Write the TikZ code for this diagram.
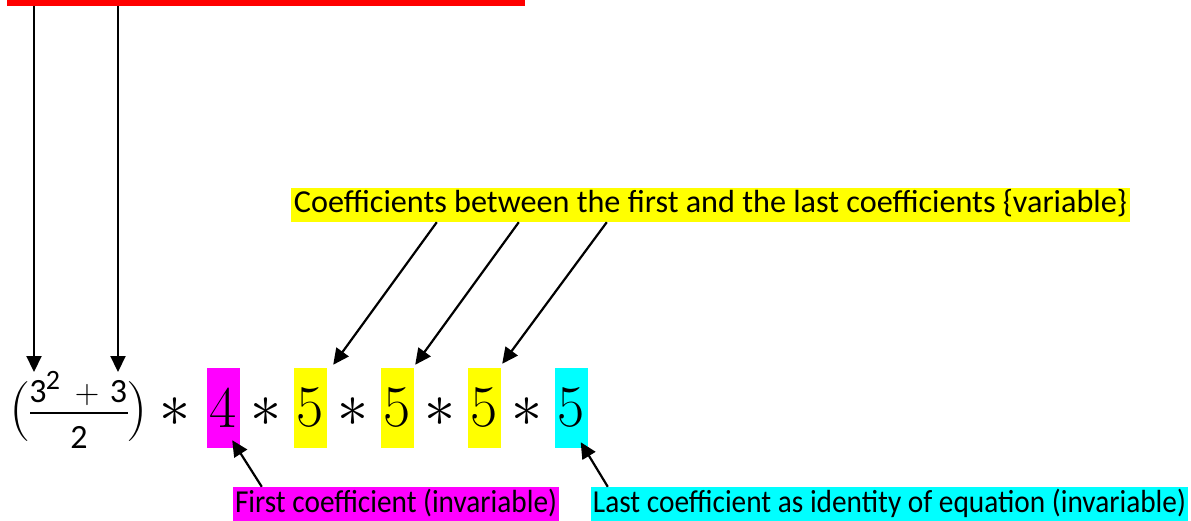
\documentclass[tikz,border=0pt]{standalone}
\usepackage{fontspec}
\usepackage{graphicx}
\setmainfont{Carlito}
\newfontfamily\lmr{Latin Modern Roman}
\usetikzlibrary{arrows.meta}
\definecolor{hlyellow}{RGB}{255,255,0}
\definecolor{hlmagenta}{RGB}{255,0,255}
\definecolor{hlcyan}{RGB}{0,255,255}
\definecolor{hlred}{RGB}{255,0,0}
% set a label to a given width, keeping its natural height
\newcommand{\fitto}[2]{\resizebox{#1}{\height}{#2}}
\newcommand{\timesmark}{\scalebox{6.2}{$\ast$}}

\begin{document}
\begin{tikzpicture}[x=1pt,y=-1pt,
  lab/.style={inner xsep=0pt, inner ysep=1pt, minimum height=34pt,
    text height=24pt, text depth=8pt, font=\fontsize{32}{34}\selectfont},
  coef/.style={inner sep=0pt, minimum width=33pt, minimum height=80pt,
    font=\lmr\fontsize{59}{60}\selectfont},
  big/.style={inner sep=0pt, anchor=base, font=\lmr\fontsize{60}{62}\selectfont},
  star/.style={inner sep=0pt, anchor=base, font=\fontsize{10}{12}\selectfont},
  small/.style={inner sep=0pt, anchor=base, font=\fontsize{34}{34}\selectfont},
  conn/.style={-{Triangle[length=16pt,width=15pt]}, line width=2.2pt, black}]

% canvas
\fill[white] (0,0) rectangle (1191,521);
\clip (0,0) rectangle (1191,521);
\useasboundingbox (0,0) rectangle (1191,521);

% bar at the top edge
\node[fill=hlred, inner sep=0pt, minimum width=518pt, minimum height=40pt,
  anchor=south west] (topbar) at (7,6) {};

% fraction (3^2+3)/2 in parentheses
\node[big] (lpar) at (20,426) {(};
\node[big] (rpar) at (137,426) {)};
\node[small] (n1) at (38,402) {3};
\node[inner sep=0pt, anchor=base, font=\fontsize{28}{28}\selectfont] (nsup) at (53,389) {2};
\node[small] (nplus) at (87,403) {\lmr +};
\node[small] (n2) at (118.5,402) {3};
\draw[line width=2.2pt] (30,413) -- (128,413);
\node[small] (den) at (79,448) {2};

% product of coefficients
\node[star] (s0) at (175,426) {\timesmark};
\node[coef, fill=hlmagenta] (c4) at (223.5,408) {4};
\node[star] (s1) at (266,426) {\timesmark};
\node[coef, fill=hlyellow] (y1) at (310.5,408) {5};
\node[star] (s2) at (353,426) {\timesmark};
\node[coef, fill=hlyellow] (y2) at (397.5,408) {5};
\node[star] (s3) at (440,426) {\timesmark};
\node[coef, fill=hlyellow] (y3) at (484.5,408) {5};
\node[star] (s4) at (527,426) {\timesmark};
\node[coef, fill=hlcyan] (c5) at (571,408) {5};

% labels
\node[lab, fill=hlyellow, minimum width=839pt] (ylab) at (710.5,205)
  {\fitto{833pt}{Coefficients between the first and the last coefficients \{variable\}}};
\node[lab, fill=hlmagenta, minimum width=326pt] (mlab) at (396,504)
  {\fitto{322pt}{First coefficient (invariable)}};
\node[lab, fill=hlcyan, minimum width=597pt] (clab) at (889.5,504)
  {\fitto{593pt}{Last coefficient as identity of equation (invariable)}};

% arrows from the top bar
\coordinate (f1) at (34,372);
\coordinate (f2) at (118,372);
\draw[conn] (topbar.south -| f1) -- (f1);
\draw[conn] (topbar.south -| f2) -- (f2);

% arrows to the middle coefficients
\draw[conn] ([xshift=146pt]ylab.south west) -- ([shift={(6pt,3pt)}]y1.north east);
\draw[conn] ([xshift=228pt]ylab.south west) -- ([shift={(1pt,3pt)}]y2.north east);
\draw[conn] ([xshift=316pt]ylab.south west) -- ([shift={(1pt,4pt)}]y3.north east);

% arrows to the first and last coefficients
\draw[conn] ([xshift=29pt]mlab.north west) -- ([shift={(-8pt,8pt)}]c4.south east);
\draw[conn] ([xshift=17pt]clab.north west) -- ([shift={(-7pt,6pt)}]c5.south east);
\end{tikzpicture}
\end{document}
